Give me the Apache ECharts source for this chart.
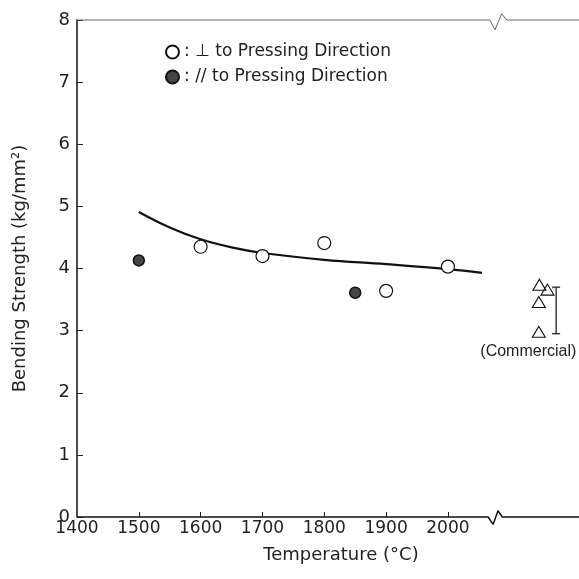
<!DOCTYPE html>
<html>
<head>
<meta charset="utf-8">
<title>Bending Strength vs Temperature</title>
<script src="https://cdn.jsdelivr.net/npm/echarts@6/dist/echarts.min.js"></script>
<style>
  html, body { margin: 0; padding: 0; background: #fff; }
  #chart { width: 579px; height: 579px; }
</style>
</head>
<body>
<div id="chart"></div>
<script>
// measured points, perpendicular to pressing direction (open circles)
const perpTemp = [1600, 1700, 1800, 1900, 2000];
const perpStrength = [4.35, 4.20, 4.41, 3.64, 4.03];
// parallel to pressing direction (filled circles)
const parTemp = [1500, 1850];
const parStrength = [4.13, 3.61];
// drawn trend curve
const curveTemp = [1500, 1550, 1600, 1650, 1700, 1800, 1900, 2000, 2055];
const curveStrength = [4.91, 4.66, 4.47, 4.34, 4.25, 4.14, 4.07, 3.99, 3.93];
// commercial samples (triangles) and their range bar
const commTemp = [2148, 2161, 2147, 2147];
const commStrength = [3.74, 3.66, 3.46, 2.98];
const commBarTemp = 2175;
const commBarRange = [2.95, 3.70];
// axis ticks
const xTickValues = [1500, 1600, 1700, 1800, 1900, 2000];
const xLabelValues = [1400, 1500, 1600, 1700, 1800, 1900, 2000];
// frame lines with the axis-break zigzag
const bottomLineTemp = [1400, 2065, 2073, 2081, 2088, 2212];
const bottomLineVal = [0, 0, -0.12, 0.1, 0, 0];
const topLineTemp = [1400, 2068, 2076, 2087, 2095, 2212];
const topLineVal = [8, 8, 7.84, 8.1, 8, 8];

const font = 'DejaVu Sans';
const zip = (a, b) => a.map((v, i) => [v, b[i]]);

const chart = echarts.init(document.getElementById('chart'), null, { renderer: 'canvas' });

const option = {
  animation: false,
  backgroundColor: '#fff',
  textStyle: { fontFamily: font, color: '#222' },
  grid: { left: 77, right: 0, top: 20, bottom: 62 },
  legend: {
    data: ['⊥ to Pressing Direction', '// to Pressing Direction'],
    orient: 'vertical',
    left: 160,
    top: 37,
    itemWidth: 13,
    itemHeight: 13,
    itemGap: 5,
    icon: 'circle',
    formatter: name => ': ' + name,
    textStyle: { fontFamily: font, fontSize: 17, color: '#222', lineHeight: 20 }
  },
  xAxis: {
    type: 'value',
    min: 1400,
    max: 2212,
    interval: 100,
    name: 'Temperature (°C)',
    nameLocation: 'middle',
    nameGap: 29,
    nameTextStyle: { fontFamily: font, fontSize: 18, color: '#222', padding: [0, 0, 0, 26] },
    axisLine: { show: false },
    axisTick: { show: true, inside: true, length: 5, customValues: xTickValues, lineStyle: { color: '#222', width: 1 } },
    axisLabel: {
      customValues: xLabelValues,
      formatter: v => String(v),
      margin: 3,
      fontFamily: font,
      fontSize: 17,
      color: '#222'
    },
    splitLine: { show: false }
  },
  yAxis: {
    type: 'value',
    min: 0,
    max: 8,
    interval: 1,
    name: 'Bending Strength (kg/mm²)',
    nameLocation: 'middle',
    nameGap: 48,
    nameTextStyle: { fontFamily: font, fontSize: 18, color: '#222' },
    axisLine: { show: true, lineStyle: { color: '#111', width: 1.5 } },
    axisTick: { show: true, inside: true, length: 6, lineStyle: { color: '#222', width: 1 } },
    axisLabel: { margin: 7, fontFamily: font, fontSize: 18, color: '#222' },
    splitLine: { show: false }
  },
  series: [
    {
      name: 'bottomFrame',
      type: 'line',
      data: zip(bottomLineTemp, bottomLineVal),
      showSymbol: false,
      clip: false,
      silent: true,
      lineStyle: { color: '#111', width: 1.5 }
    },
    {
      name: 'topFrame',
      type: 'line',
      data: zip(topLineTemp, topLineVal),
      showSymbol: false,
      clip: false,
      silent: true,
      lineStyle: { color: '#666', width: 1 }
    },
    {
      name: 'curve',
      type: 'line',
      data: zip(curveTemp, curveStrength),
      smooth: 0.4,
      showSymbol: false,
      lineStyle: { color: '#111', width: 2.2 }
    },
    {
      name: '⊥ to Pressing Direction',
      type: 'scatter',
      data: zip(perpTemp, perpStrength),
      symbol: 'circle',
      symbolSize: 13,
      itemStyle: { color: '#fff', borderColor: '#111', borderWidth: 1.2, opacity: 1 },
      z: 5
    },
    {
      name: '// to Pressing Direction',
      type: 'scatter',
      data: zip(parTemp, parStrength),
      symbol: 'circle',
      symbolSize: 11,
      itemStyle: { color: '#444', borderColor: '#111', borderWidth: 1.5, opacity: 1 },
      z: 5
    },
    {
      name: 'Commercial',
      type: 'scatter',
      data: zip(commTemp, commStrength),
      symbol: 'triangle',
      symbolSize: [13, 11],
      itemStyle: { color: 'rgba(255,255,255,0)', borderColor: '#111', borderWidth: 1.1, opacity: 1 },
      clip: false,
      z: 5
    },
    {
      name: 'CommercialRange',
      type: 'custom',
      clip: false,
      data: [[commBarTemp, commBarRange[0], commBarRange[1]]],
      renderItem: function (params, api) {
        const lo = api.coord([api.value(0), api.value(1)]);
        const hi = api.coord([api.value(0), api.value(2)]);
        const cap = 4;
        const style = { stroke: '#111', lineWidth: 1.2 };
        return {
          type: 'group',
          children: [
            { type: 'line', shape: { x1: lo[0], y1: lo[1], x2: hi[0], y2: hi[1] }, style: style },
            { type: 'line', shape: { x1: lo[0] - cap, y1: lo[1], x2: lo[0] + cap, y2: lo[1] }, style: style },
            { type: 'line', shape: { x1: hi[0] - cap, y1: hi[1], x2: hi[0] + cap, y2: hi[1] }, style: style }
          ]
        };
      }
    },
    {
      name: 'CommercialLabel',
      type: 'scatter',
      data: [[2130, 2.66]],
      symbolSize: 1,
      silent: true,
      clip: false,
      itemStyle: { opacity: 0 },
      label: {
        show: true,
        position: 'inside',
        formatter: '(Commercial)',
        fontFamily: 'Liberation Sans',
        fontSize: 16,
        color: '#222',
        opacity: 1
      },
      labelLayout: { hideOverlap: false }
    }
  ]
};

chart.setOption(option);
</script>
</body>
</html>
